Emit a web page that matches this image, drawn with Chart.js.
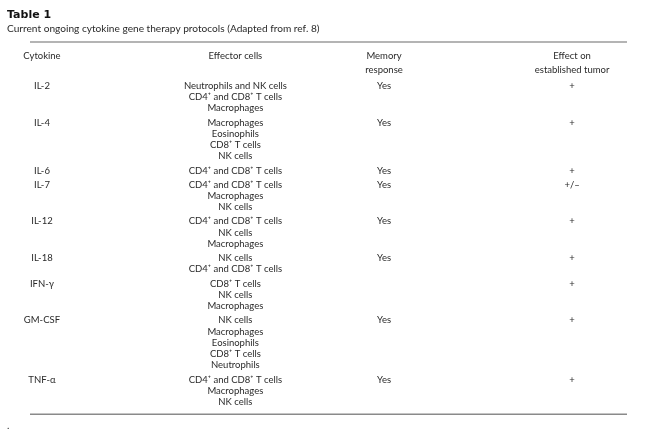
<!DOCTYPE html>
<html lang="en">
<head>
<meta charset="UTF-8">
<title>Table 1</title>
<script src="https://cdn.jsdelivr.net/npm/chart.js@4.4.0/dist/chart.umd.min.js"></script>
<style>
  html, body { margin: 0; padding: 0; background: #fff; }
  #wrap { width: 651px; height: 437px; }
</style>
</head>
<body>
<div id="wrap"><canvas id="table"></canvas></div>
<script>
const titleText = 'Table 1';
const subtitleText = 'Current ongoing cytokine gene therapy protocols (Adapted from ref. 8)';
const headers = [['Cytokine'], ['Effector cells'], ['Memory', 'response'], ['Effect on', 'established tumor']];
const cytokines = ['IL-2', 'IL-4', 'IL-6', 'IL-7', 'IL-12', 'IL-18', 'IFN-\u03b3', 'GM-CSF', 'TNF-\u03b1'];
const effectorCells = [
  ['Neutrophils and NK cells', 'CD4\u207a and CD8\u207a T cells', 'Macrophages'],
  ['Macrophages', 'Eosinophils', 'CD8\u207a T cells', 'NK cells'],
  ['CD4\u207a and CD8\u207a T cells'],
  ['CD4\u207a and CD8\u207a T cells', 'Macrophages', 'NK cells'],
  ['CD4\u207a and CD8\u207a T cells', 'NK cells', 'Macrophages'],
  ['NK cells', 'CD4\u207a and CD8\u207a T cells'],
  ['CD8\u207a T cells', 'NK cells', 'Macrophages'],
  ['NK cells', 'Macrophages', 'Eosinophils', 'CD8\u207a T cells', 'Neutrophils'],
  ['CD4\u207a and CD8\u207a T cells', 'Macrophages', 'NK cells']
];
const memoryResponse = ['Yes', 'Yes', 'Yes', 'Yes', 'Yes', 'Yes', '', 'Yes', 'Yes'];
const effectOnTumor = ['+', '+', '+', '+/\u2013', '+', '+', '+', '+', '+'];

// layout (x = fraction of the ruled width, y = text line units)
const colX = [0.02, 0.344, 0.593, 0.908];
const headerY = [-2.6, -1.39];
const rowGap = 0.25;
const topRule = -3.87, bottomRule = 29.08;
const FONT = 'Lato, "Open Sans", sans-serif';

// build one point per text line, per column
const cols = [[], [], [], []];
let line = 0;
headers.forEach((h, c) => h.forEach((t, i) => cols[c].push({ x: colX[c], y: headerY[i], t })));
cytokines.forEach((name, r) => {
  const y0 = line + r * rowGap;
  cols[0].push({ x: colX[0], y: y0, t: name });
  effectorCells[r].forEach((t, i) => cols[1].push({ x: colX[1], y: y0 + i, t }));
  if (memoryResponse[r]) cols[2].push({ x: colX[2], y: y0, t: memoryResponse[r] });
  cols[3].push({ x: colX[3], y: y0, t: effectOnTumor[r] });
  line += effectorCells[r].length;
});

const tableText = {
  id: 'tableText',
  afterDatasetsDraw(chart) {
    const ctx = chart.ctx, a = chart.chartArea;
    ctx.save();
    // rules
    ctx.strokeStyle = '#b4b4b4';
    ctx.lineWidth = 2;
    ctx.beginPath(); ctx.moveTo(a.left, a.top); ctx.lineTo(a.right, a.top); ctx.stroke();
    ctx.strokeStyle = '#8a8a8a';
    ctx.lineWidth = 1.5;
    ctx.beginPath(); ctx.moveTo(a.left, a.bottom); ctx.lineTo(a.right, a.bottom); ctx.stroke();
    // title
    ctx.fillStyle = '#111';
    ctx.textBaseline = 'middle';
    ctx.textAlign = 'left';
    ctx.font = 'bold 11px "DejaVu Sans", sans-serif';
    ctx.fillText(titleText, 7, 15);
    ctx.fillStyle = '#2a2a2a';
    ctx.font = '10.15px ' + FONT;
    ctx.fillText(subtitleText, 7, 29);
    ctx.fillText('.', 7, 426);
    // cells
    ctx.textAlign = 'center';
    ctx.font = '9.5px ' + FONT;
    chart.data.datasets.forEach((ds, di) => {
      chart.getDatasetMeta(di).data.forEach((el, i) => {
        ctx.fillText(ds.data[i].t, el.x, el.y);
      });
    });
    ctx.restore();
  }
};

new Chart(document.getElementById('table'), {
  type: 'scatter',
  data: {
    datasets: cols.map((d, c) => ({ label: 'col' + c, data: d, pointRadius: 0, pointHoverRadius: 0 }))
  },
  options: {
    responsive: true,
    maintainAspectRatio: false,
    animation: false,
    events: [],
    layout: { padding: { left: 30, right: 24, top: 42, bottom: 22.7 } },
    plugins: { legend: { display: false }, tooltip: { enabled: false } },
    scales: {
      x: { type: 'linear', display: false, min: 0, max: 1 },
      y: { type: 'linear', display: false, reverse: true, min: topRule, max: bottomRule }
    }
  },
  plugins: [tableText]
});
</script>
</body>
</html>
